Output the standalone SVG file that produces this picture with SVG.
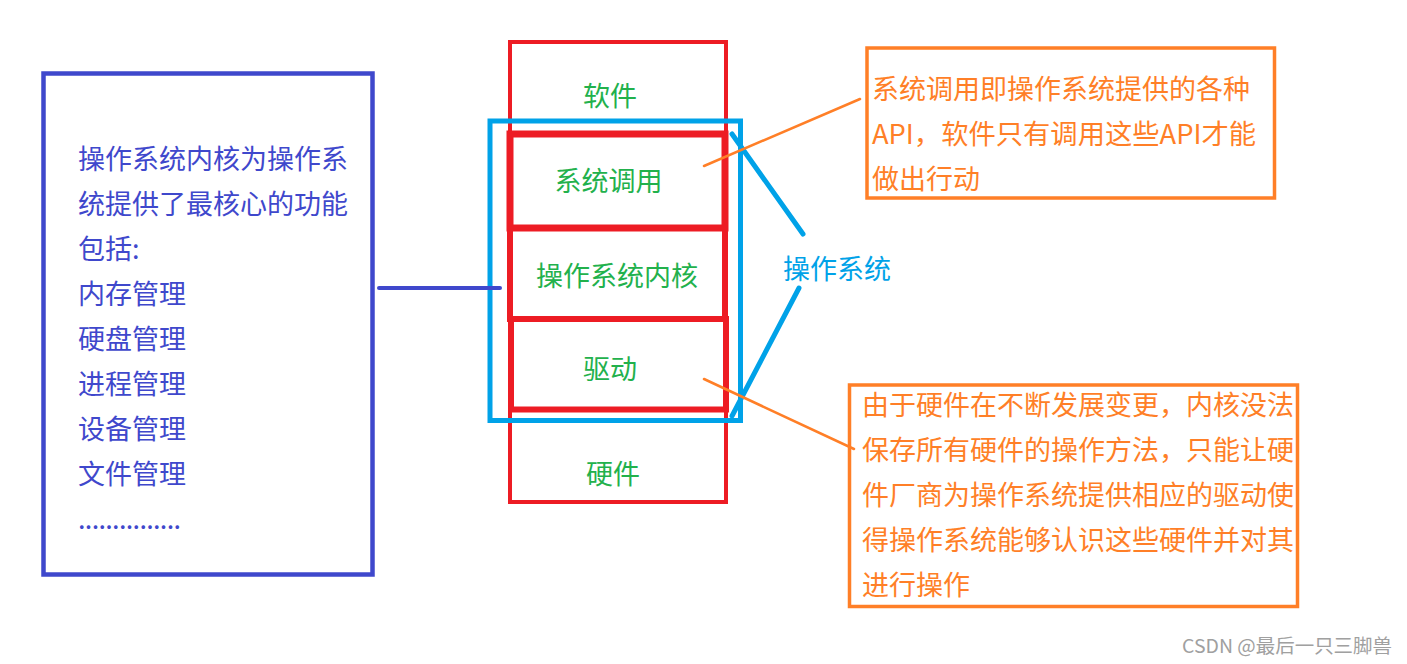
<svg xmlns="http://www.w3.org/2000/svg" width="1407" height="664" viewBox="0 0 1407 664">
<style>
text{font-family:"Noto Sans CJK SC","Microsoft YaHei",sans-serif;font-size:27px}
.purple{fill:#3f48cc}
.green{fill:#22b14c;text-anchor:middle}
.orange{fill:#ff7f27}
.cyan{fill:#00a2e8}
.redbox{fill:none;stroke:#ed1c24}
.obox{fill:none;stroke:#ff7f27;stroke-width:3.5}
.oline{stroke:#ff7f27;stroke-width:2.5;stroke-linecap:round;fill:none}
.bline{stroke:#00a2e8;stroke-width:5;stroke-linecap:round;fill:none}
</style>
<rect width="1407" height="664" fill="#ffffff"/>

<g id="kernel-functions">
<rect x="43.5" y="73.5" width="329" height="501" fill="none" stroke="#3f48cc" stroke-width="4.5"/>
<text class="purple" x="78" y="169">操作系统内核为操作系</text>
<text class="purple" x="78" y="214">统提供了最核心的功能</text>
<text class="purple" x="78" y="259">包括:</text>
<text class="purple" x="78" y="304">内存管理</text>
<text class="purple" x="78" y="349">硬盘管理</text>
<text class="purple" x="78" y="394">进程管理</text>
<text class="purple" x="78" y="439">设备管理</text>
<text class="purple" x="78" y="484">文件管理</text>
<text class="purple" x="78" y="529" textLength="103" lengthAdjust="spacing">...............</text>
</g>

<g id="software">
<rect class="redbox" x="510" y="42" width="216" height="460" stroke-width="4"/>
<text class="green" x="610" y="106">软件</text>
</g>
<g id="syscall">
<rect class="redbox" x="510" y="134" width="215" height="94" stroke-width="7"/>
<text class="green" x="608.5" y="190.5">系统调用</text>
</g>
<g id="os-kernel">
<rect class="redbox" x="510" y="228" width="215" height="91" stroke-width="6"/>
<text class="green" x="617" y="286">操作系统内核</text>
</g>
<g id="driver">
<rect class="redbox" x="511" y="319" width="215" height="90.5" stroke-width="6"/>
<text class="green" x="610" y="379">驱动</text>
</g>
<g id="hardware">
<text class="green" x="613" y="484">硬件</text>
</g>

<g id="operating-system">
<rect x="490" y="121" width="250.5" height="299.5" fill="none" stroke="#00a2e8" stroke-width="5"/>
<text class="cyan" x="783" y="278.5">操作系统</text>
</g>

<g id="syscall-note">
<rect class="obox" x="867" y="48" width="407.5" height="150"/>
<text class="orange" x="872" y="98.5">系统调用即操作系统提供的各种</text>
<text class="orange" x="872" y="143.5" textLength="384" lengthAdjust="spacingAndGlyphs">API，软件只有调用这些API才能</text>
<text class="orange" x="872" y="188.5">做出行动</text>
</g>

<g id="driver-note">
<rect class="obox" x="849.5" y="385" width="448" height="221.5"/>
<text class="orange" x="862" y="414.5">由于硬件在不断发展变更，内核没法</text>
<text class="orange" x="862" y="459.5">保存所有硬件的操作方法，只能让硬</text>
<text class="orange" x="862" y="504.5">件厂商为操作系统提供相应的驱动使</text>
<text class="orange" x="862" y="549.5">得操作系统能够认识这些硬件并对其</text>
<text class="orange" x="862" y="594.5">进行操作</text>
</g>

<g id="connectors">
<line x1="379" y1="288" x2="500" y2="288" stroke="#3f48cc" stroke-width="4" stroke-linecap="round"/>
<line class="bline" x1="732" y1="134" x2="803" y2="234"/>
<line class="bline" x1="799" y1="288" x2="732" y2="416"/>
<line class="oline" x1="704" y1="166" x2="860" y2="99"/>
<line class="oline" x1="704" y1="379" x2="854" y2="449"/>
</g>

<text x="1182" y="653" fill="#a0a0a0" style="font-size:19px" textLength="210" lengthAdjust="spacingAndGlyphs">CSDN @最后一只三脚兽</text>
</svg>
